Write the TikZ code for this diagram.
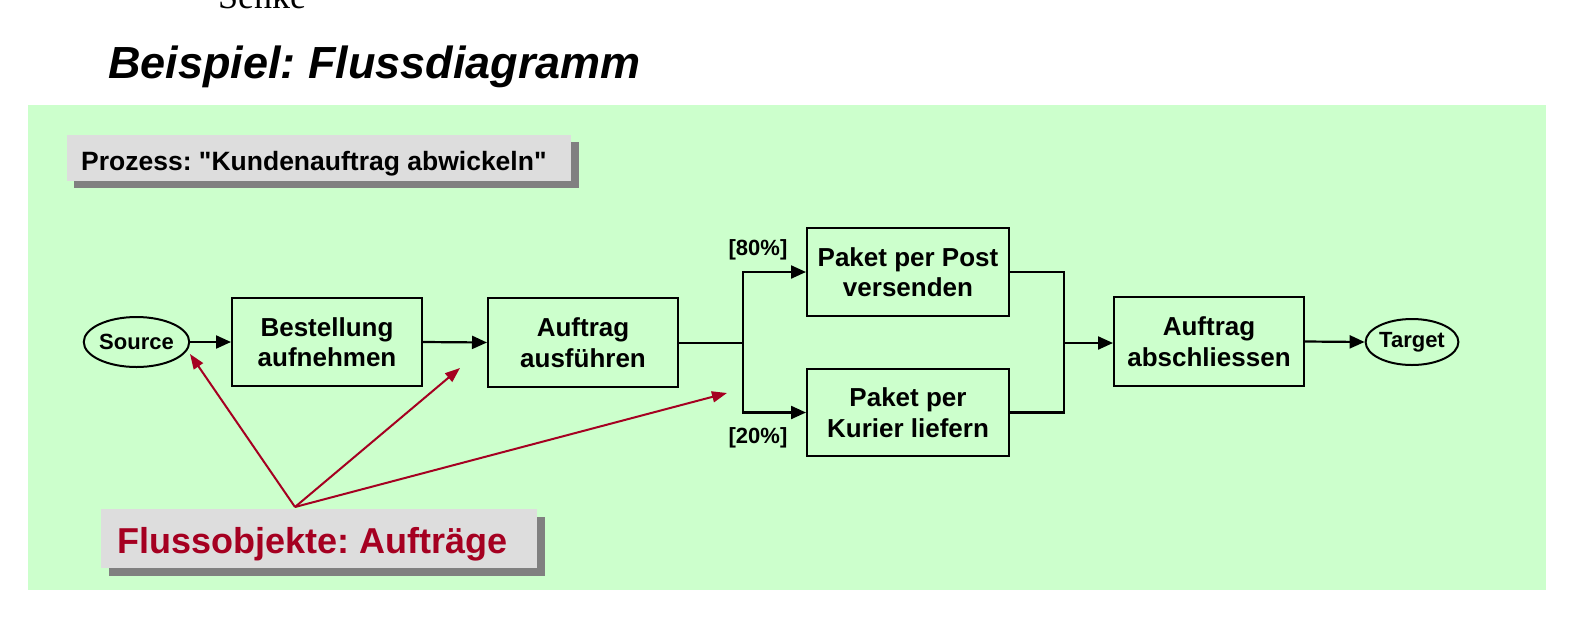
\documentclass[tikz,border=0pt]{standalone}
\usepackage{fontspec}
\setmainfont{Liberation Sans}
\newfontfamily\rawsans{Liberation Sans}
\newfontfamily\seriffam{Liberation Serif}
\usetikzlibrary{arrows.meta,shapes.geometric}
\definecolor{bggreen}{HTML}{CCFFCC}
\definecolor{lblgray}{HTML}{DDDDDD}
\definecolor{shadowgray}{HTML}{808080}
\definecolor{darkred}{HTML}{A50021}
\frenchspacing
\tikzset{
  procbox/.style={draw=black, line width=2pt, align=center, inner sep=0pt,
    font=\bfseries\fontsize{26}{30.5}\selectfont},
  endpoint/.style={ellipse, draw=black, line width=2pt, inner sep=0pt,
    font=\bfseries\fontsize{22}{24}\selectfont},
  flow/.style={line width=2.2pt, -{Triangle[length=15pt,width=13pt]}},
  plain/.style={line width=2.2pt},
  redarrow/.style={draw=darkred, line width=2pt, -{Triangle[length=15pt,width=11pt]}},
  pct/.style={font=\bfseries\fontsize{22}{24}\selectfont, inner sep=0pt},
}
\begin{document}
\begin{tikzpicture}[x=1pt,y=-1pt]
\useasboundingbox (0,0) rectangle (1596,622);
\clip (0,0) rectangle (1596,622);
\fill[white] (0,0) rectangle (1596,622);
\node[anchor=base, inner sep=0pt, font=\seriffam\fontsize{36}{36}\selectfont] (senke) at (262,8) {Senke};
\node[anchor=base west, inner sep=0pt, font=\bfseries\itshape\fontsize{45}{45}\selectfont] (title) at (108,78) {Beispiel: Flussdiagramm};
\fill[bggreen] (27.5,105) rectangle (1546,590);
% process label
\fill[shadowgray] (74,142) rectangle (579,188);
\fill[lblgray] (67,135) rectangle (571,181);
\node[anchor=base west, inner sep=0pt, font=\rawsans\bfseries\fontsize{26.5}{30}\selectfont] (proz) at (81,170) {Prozess: "Kundenauftrag abwickeln"};
% nodes
\node[endpoint, minimum width=92pt, minimum height=50pt] (src) at (136.5,342) {Source};
\node[procbox, minimum width=190pt, minimum height=88pt] (best) at (327,342) {Bestellung\\aufnehmen};
\node[procbox, minimum width=190pt, minimum height=89pt] (ausf) at (583,342.5) {Auftrag\\ausführen};
\node[procbox, minimum width=202pt, minimum height=88pt] (post) at (908,272) {Paket per Post\\versenden};
\node[procbox, minimum width=202pt, minimum height=87pt] (kur) at (908,412.5) {Paket per\\Kurier liefern};
\node[procbox, minimum width=190pt, minimum height=89pt] (absch) at (1209,341.5) {Auftrag\\abschliessen};
\node[endpoint, minimum width=90pt, minimum height=46pt] (tgt) at (1412,342) {Target};
\node[pct] (p80) at (758,250) {[80\%]};
\node[pct] (p20) at (758,438) {[20\%]};
% connectors
\coordinate (split) at (743,343);
\coordinate (merge) at (1064,343);
\draw[flow] (src.east) -- (best.west);
\draw[flow] (best.east) -- (ausf.west);
\draw[plain] (ausf.east |- split) -- (split);
\draw[flow] (split) |- (post.west);
\draw[flow] (split) |- (kur.west);
\draw[plain] (post.east) -| (merge);
\draw[plain] (kur.east) -| (merge);
\draw[flow] (merge) -- (merge -| absch.west);
\draw[flow] (absch.east) -- (tgt.west);
% flow objects label
\fill[shadowgray] (109,517) rectangle (545,576);
\fill[lblgray] (101,509) rectangle (537,568);
\node[anchor=base west, inner sep=0pt, text=darkred, font=\bfseries\fontsize{36}{40}\selectfont] (fo) at (117,553) {Flussobjekte: Aufträge};
\coordinate (fotop) at (295,507);
\coordinate (r1) at (190,354);
\coordinate (r2) at (460,368);
\coordinate (r3) at (727,393);
\draw[redarrow] (fotop) -- (r1);
\draw[redarrow] (fotop) -- (r2);
\draw[redarrow] (fotop) -- (r3);
\end{tikzpicture}
\end{document}
